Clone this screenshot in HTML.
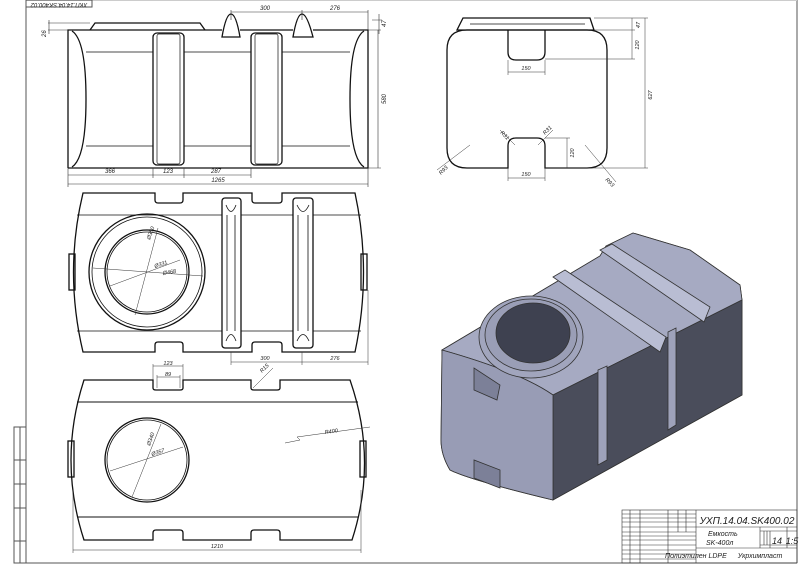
<!DOCTYPE html>
<html><head><meta charset="utf-8"><style>
html,body{margin:0;padding:0;background:#fff;width:800px;height:566px;overflow:hidden}
svg{display:block}
text{font-family:"Liberation Sans","DejaVu Sans",sans-serif;font-style:italic;fill:#222}
</style></head><body>
<svg width="800" height="566" viewBox="0 0 800 566" xmlns="http://www.w3.org/2000/svg">
<rect width="800" height="566" fill="#fff"/>
<g stroke="#555" fill="none" stroke-width="1">
<line x1="26" y1="0" x2="26" y2="563"/>
<line x1="26" y1="563" x2="797" y2="563"/>
<line x1="797" y1="0" x2="797" y2="563"/>
<line x1="26" y1="0.5" x2="797" y2="0.5" stroke="#ccc"/>
<rect x="26" y="0" width="66" height="7"/>
<rect x="14" y="427" width="12" height="136"/>
<line x1="20" y1="427" x2="20" y2="563"/>
<line x1="14" y1="460" x2="26" y2="460"/><line x1="14" y1="484" x2="26" y2="484"/>
<line x1="14" y1="508" x2="26" y2="508"/><line x1="14" y1="541" x2="26" y2="541"/>
</g>
<text x="59" y="3" font-size="6" text-anchor="middle" transform="rotate(180 59 3)">ХКП.14.04.SK400.02</text>

<!-- VIEW 1 -->
<g stroke="#111" fill="none" stroke-width="1.3">
<path d="M68 168 V30 H222 M240 30 H293 M313 30 H368 V168 H68"/>
<path d="M90 30 L95 23 H200 L205 30"/>
<path d="M222 37 Q226 14 231 14 Q236 14 240 37 Z"/>
<path d="M293 37 Q297 14 302 14 Q307 14 313 37 Z"/>
<path d="M72 31 Q86 40 86 99 Q86 158 72 167"/>
<path d="M364 31 Q350 40 350 99 Q350 158 364 167"/>
<rect x="153" y="33" width="31" height="132" rx="4"/>
<rect x="157" y="34" width="23" height="130" rx="2" stroke-width="0.7"/>
<rect x="251" y="33" width="31" height="132" rx="4"/>
<rect x="255" y="34" width="23" height="130" rx="2" stroke-width="0.7"/>
<path d="M86 52 H153 M184 52 H251 M282 52 H350 M86 146 H153 M184 146 H251 M282 146 H350" stroke-width="0.8"/>
</g>
<g stroke="#333" fill="none" stroke-width="0.6">
<line x1="68" y1="184" x2="368" y2="184"/>
<line x1="68" y1="175" x2="251" y2="175"/>
<path d="M68 168 V187 M153 168 V178 M184 168 V178 M251 168 V178 M368 168 V187"/>
<line x1="378" y1="30" x2="378" y2="168"/><path d="M368 30 H381 M368 168 H381"/>
<line x1="231" y1="12" x2="368" y2="12"/><path d="M231 10 V20 M302 10 V20 M368 10 V30"/>
<path d="M48 23 H90 M48 30 H68 M49 20 V34"/>
<path d="M372 20 H382 M379 14 V34"/>
</g>
<g font-size="6">
<text x="110" y="173" text-anchor="middle">366</text><text x="168" y="173" text-anchor="middle">123</text>
<text x="216" y="173" text-anchor="middle">287</text><text x="218" y="182" text-anchor="middle">1265</text>
<text x="265" y="10" text-anchor="middle">300</text><text x="335" y="10" text-anchor="middle">276</text>
<text x="386" y="99" transform="rotate(-90 386 99)" text-anchor="middle">580</text>
<text x="46" y="37" transform="rotate(-90 46 37)">26</text>
<text x="386" y="27" transform="rotate(-90 386 27)">47</text>
</g>

<!-- VIEW 2 -->
<g stroke="#111" fill="none" stroke-width="1.3">
<path d="M83 193 H155 V200 Q155 203 158 203 H180 Q183 203 183 200 V193 H252 V200 Q252 203 255 203 H279 Q282 203 282 200 V193 H355 Q372 272 355 352 H282 V345 Q282 342 279 342 H255 Q252 342 252 345 V352 H183 V345 Q183 342 180 342 H158 Q155 342 155 345 V352 H83 Q64 272 83 193 Z"/>
<path d="M77 215 H222 M241 215 H293 M313 215 H361 M77 331 H222 M241 331 H293 M313 331 H361" stroke-width="0.8"/>
<circle cx="147" cy="272" r="58"/><circle cx="147" cy="272" r="55" stroke-width="0.8"/>
<circle cx="147" cy="272" r="42"/><circle cx="147" cy="272" r="40" stroke-width="0.8"/>
<rect x="222" y="198" width="19" height="150" rx="3"/>
<path d="M226 205 Q231 218 236 205 M226 341 Q231 328 236 341 M227 215 V331 M235 215 V331" stroke-width="0.8"/>
<rect x="293" y="198" width="20" height="150" rx="3"/>
<path d="M297 205 Q303 218 309 205 M297 341 Q303 328 309 341 M298 215 V331 M308 215 V331" stroke-width="0.8"/>
<rect x="69" y="254" width="6" height="36"/><rect x="361" y="254" width="6" height="36"/>
</g>
<g stroke="#333" stroke-width="0.5" fill="none">
<path d="M93 268 L203 276 M110 286 L180 260 M135 315 L158 228"/>
<line x1="231" y1="362" x2="368" y2="362"/><path d="M231 352 V365 M302 352 V365 M368 290 V365"/>
</g>
<g font-size="5.5">
<text x="150" y="240" transform="rotate(-70 150 240)">Ø350</text>
<text x="155" y="268" transform="rotate(-18 155 268)">Ø331</text>
<text x="163" y="275" transform="rotate(-10 163 275)">Ø468</text>
<text x="265" y="360" text-anchor="middle">300</text><text x="335" y="360" text-anchor="middle">276</text>
</g>

<!-- VIEW 3 -->
<g stroke="#111" fill="none" stroke-width="1.3">
<path d="M84 380 H153 V388 Q153 390 156 390 H180 Q183 390 183 388 V380 H251 V388 Q251 390 254 390 H277 Q280 390 280 388 V380 H350 Q378 460 352 540 H280 V533 Q280 530 277 530 H254 Q251 530 251 533 V540 H183 V533 Q183 530 180 530 H156 Q153 530 153 533 V540 H84 Q58 460 84 380 Z"/>
<path d="M77 402 H358 M77 517 H358" stroke-width="0.9"/>
<circle cx="147" cy="460" r="42"/><circle cx="147" cy="460" r="40" stroke-width="0.8"/>
<rect x="68" y="441" width="6" height="36"/><rect x="360" y="441" width="6" height="36"/>
</g>
<g stroke="#333" stroke-width="0.5" fill="none">
<path d="M110 471 L183 447 M132 497 L161 424"/>
<path d="M285 443 L300 440 L297 437 L370 427"/>
<line x1="73" y1="550" x2="361" y2="550"/><path d="M73 490 V553 M361 490 V553"/>
<path d="M153 366 H183 M153 364 V380 M183 364 V380 M157 377 H180 M157 375 V388 M180 375 V388"/>
<path d="M253 388 L273 368"/>
</g>
<g font-size="5.5">
<text x="150" y="446" transform="rotate(-70 150 446)">Ø340</text>
<text x="152" y="456" transform="rotate(-18 152 456)">Ø357</text>
<text x="325" y="434" transform="rotate(-8 325 434)">R400</text>
<text x="217" y="548" text-anchor="middle">1210</text>
<text x="168" y="365" text-anchor="middle">123</text><text x="168" y="376" text-anchor="middle">89</text>
<text x="262" y="373" transform="rotate(-45 262 373)">R15</text>
</g>

<!-- RIGHT VIEW -->
<g stroke="#111" fill="none" stroke-width="1.3">
<path d="M463 18 H590 L594 30 H457 Z"/>
<path d="M470 24 H585" stroke-width="0.7"/>
<path d="M508 30 V52 Q508 60 516 60 H537 Q545 60 545 52 V30 M467 30 H587 Q607 30 607 50 V148 Q607 168 587 168 H545 V146 Q545 138 537 138 H516 Q508 138 508 146 V168 H467 Q447 168 447 148 V50 Q447 30 467 30 Z"/>
</g>
<g stroke="#333" stroke-width="0.5" fill="none">
<line x1="508" y1="72" x2="545" y2="72"/><path d="M508 60 V75 M545 60 V75"/>
<line x1="508" y1="178" x2="545" y2="178"/><path d="M508 168 V181 M545 168 V181"/>
<line x1="645" y1="18" x2="645" y2="168"/><path d="M594 18 H648 M545 168 H648"/>
<line x1="632" y1="18" x2="632" y2="59"/><path d="M594 30 H635 M545 59 H635"/>
<line x1="567" y1="138" x2="567" y2="168"/><path d="M545 138 H570"/>
<path d="M437 170 L470 145 M616 182 L585 145 M500 130 L515 145 M553 130 L538 145"/>
</g>
<g font-size="5.5">
<text x="526" y="70" text-anchor="middle">150</text><text x="526" y="176" text-anchor="middle">150</text>
<text x="652" y="95" transform="rotate(-90 652 95)" text-anchor="middle">627</text>
<text x="639" y="45" transform="rotate(-90 639 45)" text-anchor="middle">120</text>
<text x="640" y="25" transform="rotate(-90 640 25)" text-anchor="middle">47</text>
<text x="574" y="153" transform="rotate(-90 574 153)" text-anchor="middle">120</text>
<text x="441" y="175" transform="rotate(-45 441 175)">R93</text>
<text x="605" y="180" transform="rotate(45 605 180)">R93</text>
<text x="500" y="133" transform="rotate(45 500 133)">R31</text>
<text x="545" y="135" transform="rotate(-45 545 135)">R31</text>
</g>

<!-- 3D VIEW -->
<g stroke="#333" stroke-width="0.8">
<path d="M442 350 L600 256 L606 246 L633 233 L690 250 L740 285 L742 300 L742 395 L553 500 Q470 480 450 470 Q441 455 441 440 Z" fill="#8e92aa"/>
<path d="M442 350 L600 256 L606 246 L633 233 L690 250 L740 285 L742 300 L553 395 Q520 372 442 350 Z" fill="#a6aac2"/>
<path d="M553 395 L742 300 L742 395 L553 500 Z" fill="#4a4d5b"/>
<path d="M442 350 Q520 372 553 395 L553 500 Q470 480 450 470 Q441 455 441 440 Z" fill="#989cb5"/>
<path d="M553 277 L565 270 L666 337 L660 352 Z" fill="#b9bdd3"/>
<path d="M600 250 L612 244 L710 307 L704 322 Z" fill="#b9bdd3"/>
<path d="M598 370 L607 366 L607 460 L598 465 Z" fill="#9ea2ba"/>
<path d="M668 332 L676 328 L676 425 L668 430 Z" fill="#9ea2ba"/>
<ellipse cx="531" cy="337" rx="52" ry="41" fill="#a1a5bd"/>
<ellipse cx="531" cy="335" rx="46" ry="36" fill="#9a9eb6"/>
<ellipse cx="533" cy="333" rx="37" ry="30" fill="#3e4150"/>
<path d="M474 368 L474 390 L497 400 L500 385 Z" fill="#7c8098"/>
<path d="M474 460 L474 478 L500 488 L500 470 Z" fill="#7c8098"/>
</g>

<!-- TITLE BLOCK -->
<g stroke="#333" stroke-width="0.6" fill="none">
<rect x="622" y="510" width="175" height="53"/>
<line x1="696" y1="510" x2="696" y2="563"/>
<line x1="696" y1="527" x2="797" y2="527"/>
<line x1="696" y1="548" x2="797" y2="548"/>
<line x1="760" y1="527" x2="760" y2="548"/>
<path d="M760 531 H797 M760 545 H797 M770 531 V548 M787 527 V548 M764 531 V545 M767 531 V545"/>
<path d="M622 514 H696 M622 518 H696 M622 522 H696 M622 527 H696 M622 532 H696 M622 536 H696 M622 540 H696 M622 545 H696 M622 550 H696 M622 554 H696 M622 559 H696"/>
<path d="M630 510 V563 M640 510 V563 M668 510 V563 M678 510 V532 M686 510 V532"/>
</g>
<text x="747" y="524" font-size="10" text-anchor="middle">УХП.14.04.SK400.02</text>
<text x="708" y="536" font-size="7">Емкость</text>
<text x="706" y="545" font-size="7">SK-400л</text>
<text x="777" y="544" font-size="9" text-anchor="middle">14</text>
<text x="792" y="544" font-size="9" text-anchor="middle">1:5</text>
<text x="665" y="558" font-size="7" font-style="normal">Полиэтилен LDPE</text>
<text x="760" y="558" font-size="7" text-anchor="middle" font-style="normal">Укрхимпласт</text>
</svg>
</body></html>
